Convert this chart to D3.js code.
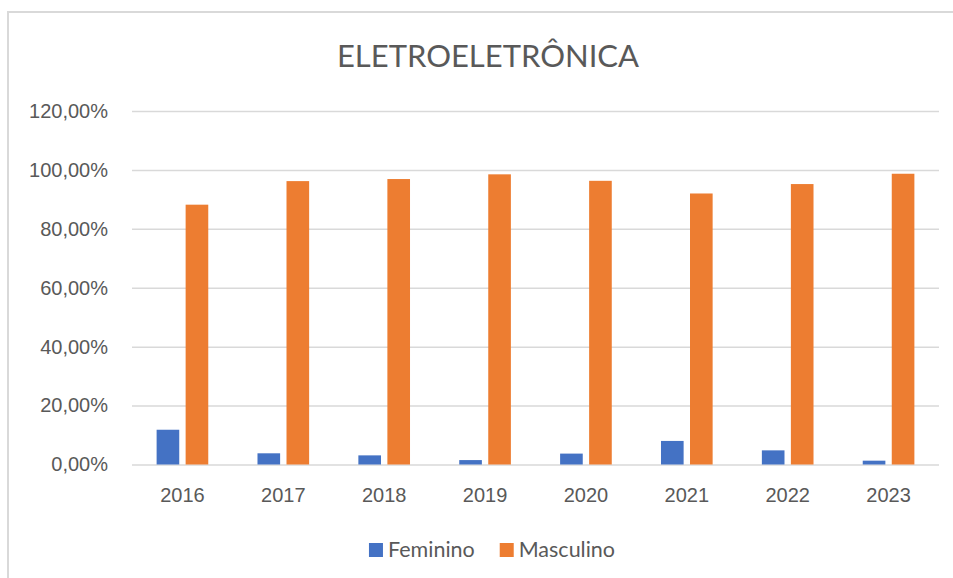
<!DOCTYPE html>
<html>
<head>
<meta charset="UTF-8">
<title>ELETROELETRÔNICA</title>
<script src="https://cdn.jsdelivr.net/npm/d3@7"></script>
<style>
  body { margin: 0; background: #fff; }
  svg { display: block; font-family: Lato, "Open Sans", sans-serif; }
  .tick text { fill: #595959; font-size: 20px; }
</style>
</head>
<body>
<svg id="chart" width="953" height="578"></svg>
<script>
const title = "ELETROELETRÔNICA";
const years = ["2016", "2017", "2018", "2019", "2020", "2021", "2022", "2023"];
const seriesNames = ["Feminino", "Masculino"];
const feminino = [0.118, 0.038, 0.031, 0.015, 0.037, 0.080, 0.048, 0.013];
const masculino = [0.882, 0.962, 0.969, 0.985, 0.963, 0.920, 0.952, 0.987];
const yTicks = [0, 0.2, 0.4, 0.6, 0.8, 1.0, 1.2];
const colors = ["#4472c4", "#ed7d31"];

const values = [feminino, masculino];
const rows = years.map((yr, i) => ({ year: yr, vals: seriesNames.map((s, j) => ({ name: s, v: values[j][i] })) }));

const plotLeft = 132, plotRight = 939, plotTop = 111, plotBottom = 464.5;
const svg = d3.select("#chart");

// frame around the chart area
svg.append("rect")
  .attr("x", 8).attr("y", 12)
  .attr("width", 1000).attr("height", 700)
  .attr("fill", "none")
  .attr("stroke", "#d9d9d9")
  .attr("stroke-width", 2);

const pt = d3.formatLocale({ decimal: ",", thousands: ".", grouping: [3], currency: ["R$", ""] }).format(".2%");

const x0 = d3.scaleBand().domain(years).range([plotLeft, plotRight]).paddingInner(0.488).paddingOuter(0.244);
const x1 = d3.scaleBand().domain(seriesNames).range([0, x0.bandwidth()]).paddingInner(0.22);
const y = d3.scaleLinear().domain([0, 1.2]).range([plotBottom, plotTop]);
const color = d3.scaleOrdinal().domain(seriesNames).range(colors);

// y axis + grid
const yAxis = svg.append("g")
  .attr("transform", "translate(" + plotLeft + ",0)")
  .call(d3.axisLeft(y).tickValues(yTicks).tickFormat(pt).tickSize(-(plotRight - plotLeft)).tickPadding(24));
yAxis.select(".domain").remove();
yAxis.selectAll(".tick line").attr("stroke", "#d9d9d9").attr("stroke-width", 1.5);

// x axis
const xAxis = svg.append("g")
  .attr("transform", "translate(0," + plotBottom + ")")
  .call(d3.axisBottom(x0).tickSize(0).tickPadding(23));
xAxis.select(".domain").remove();

// bars
svg.append("g").selectAll("g")
  .data(rows)
  .join("g")
  .attr("transform", d => "translate(" + x0(d.year) + ",0)")
  .selectAll("rect")
  .data(d => d.vals)
  .join("rect")
  .attr("x", d => x1(d.name))
  .attr("y", d => y(d.v))
  .attr("width", x1.bandwidth())
  .attr("height", d => y(0) - y(d.v))
  .attr("fill", d => color(d.name));

// title
svg.append("text")
  .attr("x", 488).attr("y", 67)
  .attr("text-anchor", "middle")
  .attr("fill", "#595959")
  .attr("font-size", 31)
  .text(title);

// legend
const legend = svg.append("g");
let lx = 0;
seriesNames.forEach((s, i) => {
  const g = legend.append("g").attr("transform", "translate(" + lx + ",0)");
  g.append("rect").attr("x", 0).attr("y", 543).attr("width", 14).attr("height", 14).attr("fill", color(s));
  const t = g.append("text").attr("x", 19).attr("y", 557).attr("fill", "#595959").attr("font-size", 21.5).text(s);
  lx += 19 + t.node().getComputedTextLength() + 25;
});
const lw = lx - 25;
legend.attr("transform", "translate(" + (492 - lw / 2) + ",0)");
</script>
</body>
</html>
